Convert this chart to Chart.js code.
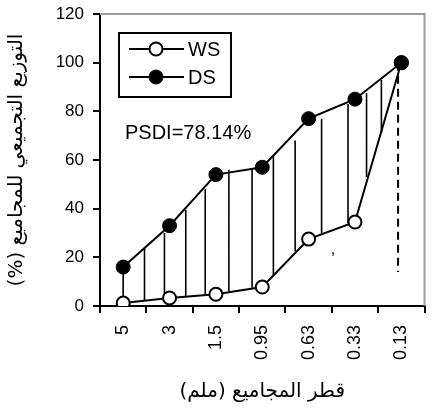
<!DOCTYPE html>
<html>
<head>
<meta charset="utf-8">
<script src="https://cdn.jsdelivr.net/npm/chart.js@4"></script>
<style>
  html, body { margin: 0; padding: 0; background: #fff; }
  canvas { display: block; }
</style>
</head>
<body>
<canvas id="chart" width="433" height="410"></canvas>
<script>
// Data
const sizes = ['5', '3', '1.5', '0.95', '0.63', '0.33', '0.13'];
const wsValues = [1.2, 3.3, 4.8, 7.8, 27.5, 34.5, 100];
const dsValues = [16, 33, 54, 57, 77, 85, 100];
const yTicks = [0, 20, 40, 60, 80, 100, 120];

// hatch lines between the two curves (x in category units, 0 = "5")
const hatchX = [0, 0.46, 0.89, 1.35, 1.77, 2.28, 2.78, 3.24, 3.71, 4.28, 4.85, 5.25, 5.57];
const hatchTop = [16, 24, 30, 39.5, 48, 56, 56.5, 62, 68, 77, 83, 87.5, 93];
const hatchBottom = [1.2, 2.5, 3.3, 4, 4.7, 6, 7.5, 12.7, 22.5, 30, 34, 53, 71];

// dashed drop line at the last size
const dashX = [5.93, 5.93];
const dashY = [100, 14];

const yTitle = 'التوزيع التجميعي للمجاميع (%)\u200F';
const xTitle = 'قطر المجاميع (ملم)\u200F';
const psdiText = 'PSDI=78.14%';

const latin = "'Liberation Sans', Arial, sans-serif";
const arabic = "'DejaVu Sans', sans-serif";

const hatchData = hatchX.flatMap((x, i) => [
    { x: x, y: hatchTop[i] },
    { x: x, y: hatchBottom[i] },
    { x: x, y: null }
]);

// frame, legend box and free text
const extras = {
    id: 'extras',
    beforeDatasetsDraw(chart) {
        const { ctx, chartArea: a } = chart;
        ctx.save();
        ctx.strokeStyle = '#9a9a9a';
        ctx.lineWidth = 2;
        ctx.beginPath();
        ctx.moveTo(a.left, a.top);
        ctx.lineTo(a.right, a.top);
        ctx.lineTo(a.right, a.bottom);
        ctx.stroke();
        ctx.restore();
    },
    afterDatasetsDraw(chart) {
        const { ctx } = chart;
        ctx.save();
        // legend box
        ctx.strokeStyle = '#000';
        ctx.lineWidth = 2;
        ctx.strokeRect(119, 33, 112, 64);
        const rows = [
            { label: 'WS', y: 49, fill: '#fff', r: 6.5 },
            { label: 'DS', y: 77, fill: '#000', r: 7 }
        ];
        ctx.font = '20px ' + latin;
        ctx.textBaseline = 'middle';
        ctx.textAlign = 'left';
        rows.forEach(row => {
            ctx.beginPath();
            ctx.moveTo(129, row.y);
            ctx.lineTo(184, row.y);
            ctx.lineWidth = 2;
            ctx.stroke();
            ctx.beginPath();
            ctx.arc(156, row.y, row.r, 0, Math.PI * 2);
            ctx.fillStyle = row.fill;
            ctx.fill();
            ctx.lineWidth = row.fill === '#fff' ? 2 : 1;
            ctx.stroke();
            ctx.fillStyle = '#000';
            ctx.fillText(row.label, 188, row.y + 1);
        });
        // PSDI label
        ctx.fillText(psdiText, 125, 133);
        // stray comma in the original figure
        const xh = chart.scales.xh, y = chart.scales.y;
        ctx.font = '16px ' + latin;
        ctx.fillText(',', xh.getPixelForValue(4.48), y.getPixelForValue(23));
        ctx.restore();
    }
};

new Chart(document.getElementById('chart'), {
    type: 'line',
    data: {
        labels: sizes,
        datasets: [
            {
                label: 'DS',
                data: dsValues,
                borderColor: '#000',
                borderWidth: 2,
                pointRadius: 7,
                pointBackgroundColor: '#000',
                pointBorderColor: '#000',
                pointBorderWidth: 1,
                tension: 0,
                order: 0
            },
            {
                label: 'WS',
                data: wsValues,
                borderColor: '#000',
                borderWidth: 2,
                pointRadius: 6.5,
                pointBackgroundColor: '#fff',
                pointBorderColor: '#000',
                pointBorderWidth: 2,
                tension: 0,
                order: 1
            },
            {
                label: 'hatch',
                xAxisID: 'xh',
                data: hatchData,
                borderColor: '#000',
                borderWidth: 1.6,
                pointRadius: 0,
                spanGaps: false,
                order: 5
            },
            {
                label: 'drop',
                xAxisID: 'xh',
                data: dashX.map((x, i) => ({ x: x, y: dashY[i] })),
                borderColor: '#000',
                borderWidth: 2,
                borderDash: [8, 5],
                pointRadius: 0,
                order: 5
            }
        ]
    },
    options: {
        responsive: false,
        animation: false,
        layout: { padding: { top: 14, right: 1, left: 0, bottom: 0 } },
        plugins: {
            legend: { display: false },
            tooltip: { enabled: false }
        },
        scales: {
            x: {
                type: 'category',
                offset: true,
                afterFit: s => { s.height = 104; s.paddingLeft = 0; s.paddingRight = 0; },
                grid: {
                    offset: true,
                    drawOnChartArea: false,
                    tickLength: 7,
                    color: '#000',
                    lineWidth: 2
                },
                border: { color: '#000', width: 2 },
                ticks: {
                    color: '#000',
                    font: { family: latin, size: 18 },
                    minRotation: 90,
                    maxRotation: 90,
                    autoSkip: false,
                    padding: 12
                },
                title: {
                    display: true,
                    text: xTitle,
                    color: '#000',
                    font: { family: arabic, size: 20 },
                    padding: { top: 0, bottom: 6 }
                }
            },
            xh: {
                type: 'linear',
                display: false,
                min: -0.5,
                max: 6.5
            },
            y: {
                min: 0,
                max: 120,
                afterFit: s => { s.width = 100; s.paddingTop = 0; s.paddingBottom = 0; },
                afterBuildTicks: s => { s.ticks = yTicks.map(v => ({ value: v })); },
                grid: {
                    drawOnChartArea: false,
                    tickLength: 7,
                    color: '#000',
                    lineWidth: 2
                },
                border: { color: '#000', width: 2 },
                ticks: {
                    color: '#000',
                    font: { family: latin, size: 17 },
                    padding: 9
                },
                title: {
                    display: true,
                    text: yTitle,
                    color: '#000',
                    font: { family: arabic, size: 20 },
                    padding: { top: 5, bottom: 0 }
                }
            }
        }
    },
    plugins: [extras]
});
</script>
</body>
</html>
